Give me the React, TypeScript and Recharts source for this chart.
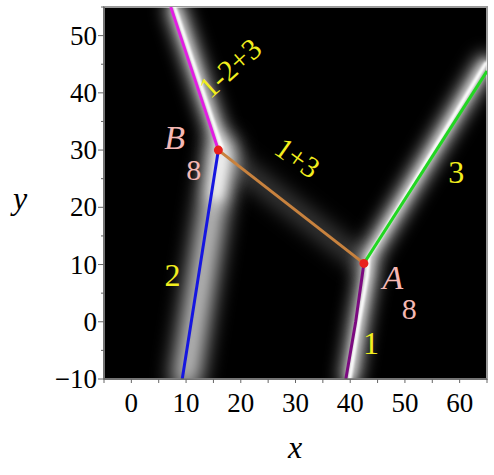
import React from "react"
import { LineChart, Line, XAxis, YAxis, ReferenceArea, ReferenceDot } from "recharts"

// tick values
const xTicks = [-5, 0, 5, 10, 15, 20, 25, 30, 35, 40, 45, 50, 55, 60, 65]
const yTicks = [-10, -5, 0, 5, 10, 15, 20, 25, 30, 35, 40, 45, 50, 55]

// vertices
const pointB = { x: 15.9, y: 30 }
const pointA = { x: 42.5, y: 10.2 }

// coloured edges
const edgeTop = [pointB, { x: 7.2, y: 55 }] // 1-2+3
const edge2 = [pointB, { x: 9.3, y: -10 }] // 2
const edgeMid = [pointB, pointA] // 1+3
const edge3 = [pointA, { x: 65, y: 43.8 }] // 3
const edge1 = [pointA, { x: 41.0, y: 0 }, { x: 39.2, y: -10 }] // 1

// white ridges of the density plot behind the edges
const ridgeB = [{ x: 7.9, y: 55 }, { x: 16.6, y: 30.2 }, { x: 15.6, y: 22 }]
const ridgeBCore = [{ x: 7.9, y: 55 }, { x: 16.5, y: 30.5 }]
const ridgeA = [
  { x: 64.8, y: 45.2 },
  { x: 43.4, y: 11.4 },
  { x: 43.1, y: 8 },
  { x: 41.6, y: 0 },
  { x: 39.9, y: -10 },
]
const haze2 = [{ x: 16.6, y: 30 }, { x: 10.0, y: -10 }]

const SERIF = "'Liberation Serif', 'Times New Roman', serif"

function XTick(props: any) {
  const { x, y, payload } = props
  const v = payload.value
  return (
    <g>
      <line x1={x} y1={y} x2={x} y2={y + 4} stroke="#666" strokeWidth={1} />
      {v % 10 === 0 && (
        <text x={x} y={y + 33} textAnchor="middle" style={{ fontFamily: SERIF, fontSize: 27 }} fill="#000">
          {v}
        </text>
      )}
    </g>
  )
}

function YTick(props: any) {
  const { x, y, payload } = props
  const v = payload.value
  const major = v % 10 === 0
  return (
    <g>
      <line x1={x} y1={y} x2={x - (major ? 6 : 3)} y2={y} stroke="#666" strokeWidth={1} />
      {major && (
        <text x={x - 7} y={y + 9} textAnchor="end" style={{ fontFamily: SERIF, fontSize: 27 }} fill="#000">
          {v < 0 ? `\u2212${Math.abs(v)}` : v}
        </text>
      )}
    </g>
  )
}

function tag(text: string, color: string, size: number, angle = 0, italic = false) {
  return (p: any) => (
    <text
      x={p.cx}
      y={p.cy}
      textAnchor="middle"
      dominantBaseline="central"
      style={{ fontFamily: SERIF, fontSize: size, fontStyle: italic ? "italic" : "normal" }}
      fill={color}
      transform={angle ? `rotate(${angle} ${p.cx} ${p.cy})` : undefined}
    >
      {text}
    </text>
  )
}

const YELLOW = "#f2ee1e"
const PINK = "#f5b8b4"

function glow(key: string, data: any[], width: number, filter: string, opacity: number) {
  return (
    <Line
      key={key}
      data={data}
      dataKey="y"
      type="linear"
      stroke="#ffffff"
      strokeWidth={width}
      strokeOpacity={opacity}
      strokeLinecap="round"
      strokeLinejoin="round"
      filter={`url(#${filter})`}
      dot={false}
      activeDot={false}
      isAnimationActive={false}
    />
  )
}

function edge(key: string, data: any[], color: string) {
  return (
    <Line
      key={key}
      data={data}
      dataKey="y"
      type="linear"
      stroke={color}
      strokeWidth={3}
      dot={false}
      activeDot={false}
      isAnimationActive={false}
    />
  )
}

export default function App() {
  return (
    <div style={{ position: "absolute", left: 0, top: 0, background: "#fff" }}>
      <LineChart width={494} height={475} margin={{ top: 7, right: 7, bottom: 0, left: 0 }}>
        <defs>
          <filter id="blurWide" filterUnits="userSpaceOnUse" x="0" y="0" width="494" height="475">
            <feGaussianBlur stdDeviation="9" />
          </filter>
          <filter id="blurMid" filterUnits="userSpaceOnUse" x="0" y="0" width="494" height="475">
            <feGaussianBlur stdDeviation="4" />
          </filter>
          <filter id="blurSoft" filterUnits="userSpaceOnUse" x="0" y="0" width="494" height="475">
            <feGaussianBlur stdDeviation="11" />
          </filter>
          <filter id="blurCore" filterUnits="userSpaceOnUse" x="0" y="0" width="494" height="475">
            <feGaussianBlur stdDeviation="1" />
          </filter>
        </defs>
        <XAxis
          type="number"
          dataKey="x"
          domain={[-5, 65]}
          ticks={xTicks}
          allowDataOverflow
          height={96}
          tickSize={0}
          tickMargin={0}
          tick={<XTick />}
          axisLine={{ stroke: "#666", strokeWidth: 1.5 }}
          interval={0}
        />
        <YAxis
          type="number"
          dataKey="y"
          domain={[-10, 55]}
          ticks={yTicks}
          allowDataOverflow
          width={104}
          tickSize={0}
          tickMargin={0}
          tick={<YTick />}
          axisLine={{ stroke: "#666", strokeWidth: 1.5 }}
          interval={0}
        />
        <ReferenceArea x1={-5} x2={65} y1={-10} y2={55} fill="#000" fillOpacity={1} stroke="#9a9a9a" strokeWidth={2} />

        {glow("h2", haze2, 24, "blurSoft", 0.9)}
        {glow("hm", edgeMid, 12, "blurSoft", 0.4)}
        {glow("wb", ridgeB, 16, "blurWide", 0.85)}
        {glow("wa", ridgeA, 16, "blurWide", 0.85)}
        {glow("mb", ridgeB, 7, "blurMid", 0.7)}
        {glow("ma", ridgeA, 7, "blurMid", 0.8)}
        {glow("cb", ridgeBCore, 3.5, "blurCore", 1)}
        {glow("ca", ridgeA, 3.5, "blurCore", 1)}

        {edge("top", edgeTop, "#e21ee2")}
        {edge("two", edge2, "#1616e0")}
        {edge("mid", edgeMid, "#c8823e")}
        {edge("three", edge3, "#22d622")}
        {edge("one", edge1, "#7c0a80")}

        <ReferenceDot x={pointB.x} y={pointB.y} r={4.5} fill="#e8201c" stroke="none" />
        <ReferenceDot x={pointA.x} y={pointA.y} r={4.5} fill="#e8201c" stroke="none" />

        <ReferenceDot x={18.0} y={44.4} r={0} shape={tag("1-2+3", YELLOW, 30, -42)} />
        <ReferenceDot x={30.4} y={28.7} r={0} shape={tag("1+3", YELLOW, 30, 35)} />
        <ReferenceDot x={59.4} y={26.2} r={0} shape={tag("3", YELLOW, 32)} />
        <ReferenceDot x={7.5} y={8.2} r={0} shape={tag("2", YELLOW, 32)} />
        <ReferenceDot x={43.8} y={-3.7} r={0} shape={tag("1", YELLOW, 32)} />
        <ReferenceDot x={7.9} y={32.2} r={0} shape={tag("B", PINK, 34, 0, true)} />
        <ReferenceDot x={11.4} y={26.6} r={0} shape={tag("8", PINK, 30)} />
        <ReferenceDot x={47.8} y={7.7} r={0} shape={tag("A", PINK, 34, 0, true)} />
        <ReferenceDot x={50.8} y={2.4} r={0} shape={tag("8", PINK, 30)} />
      </LineChart>
      <div
        style={{
          position: "absolute",
          left: 295,
          top: 447,
          transform: "translate(-50%, -50%)",
          fontFamily: SERIF,
          fontStyle: "italic",
          fontSize: 32,
          lineHeight: 1,
        }}
      >
        x
      </div>
      <div
        style={{
          position: "absolute",
          left: 20,
          top: 198,
          transform: "translate(-50%, -50%)",
          fontFamily: SERIF,
          fontStyle: "italic",
          fontSize: 32,
          lineHeight: 1,
        }}
      >
        y
      </div>
    </div>
  )
}
